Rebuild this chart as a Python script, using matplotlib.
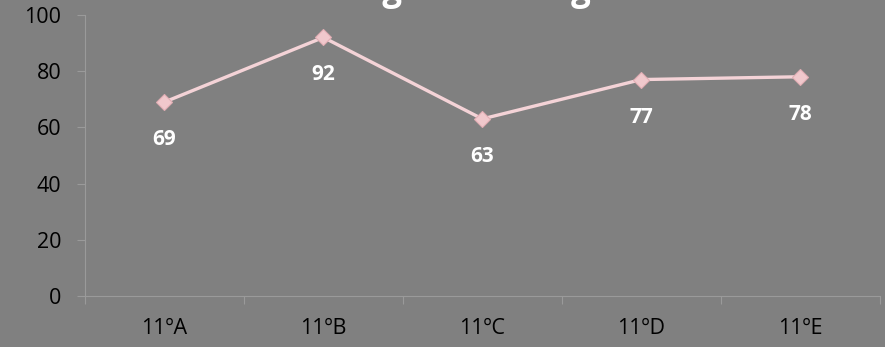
import matplotlib.pyplot as plt
import numpy as np

# Chart data
turmas = ['11ºA', '11ºB', '11ºC', '11ºD', '11ºE']
medias = [69, 92, 63, 77, 78]
yticks = [0, 20, 40, 60, 80, 100]
titulo = 'Biologia e Geologia'

plt.rcParams['font.family'] = ['Open Sans', 'DejaVu Sans']

bg = '#808080'
axis_col = '#9a9a9a'

fig = plt.figure(figsize=(8.85, 3.47), dpi=100)
fig.patch.set_facecolor(bg)
ax = fig.add_axes([0.096, 0.147, 0.898, 0.81])
ax.set_facecolor(bg)

x = np.arange(len(turmas))
ax.plot(x, medias, color='#f4d3d7', lw=2.4, marker='D', markersize=8,
        markerfacecolor='#f0c8cc', markeredgecolor='#e2aeb4', markeredgewidth=0.8,
        zorder=3)

for xi, v in zip(x, medias):
    ax.annotate(str(v), (xi, v), xytext=(0, -27), textcoords='offset points',
                ha='center', va='center', color='white', fontsize=15,
                fontweight='bold')

ax.set_xlim(-0.5, len(turmas) - 0.5)
ax.set_ylim(0, 100)
ax.set_yticks(yticks)
ax.set_xticks(x)
ax.set_xticklabels(turmas)
ax.set_xticks(np.arange(-0.5, len(turmas)), minor=True)

for s in ['top', 'right']:
    ax.spines[s].set_visible(False)
for s in ['left', 'bottom']:
    ax.spines[s].set_color(axis_col)
    ax.spines[s].set_linewidth(0.8)

ax.tick_params(axis='y', colors=axis_col, labelcolor='black', labelsize=15.5,
               length=6, width=0.8, direction='out', pad=11)
ax.tick_params(axis='x', which='major', length=0, labelcolor='black',
               labelsize=15.5, pad=16)
ax.tick_params(axis='x', which='minor', colors=axis_col, length=6,
               width=0.8, direction='out')

# title: only the bottom of the letters shows at the top edge
fig.text(0.518, 1.0, titulo, ha='center', va='baseline', color='white',
         fontsize=25, fontweight='bold')

fig.savefig('out.png', dpi=100, facecolor=bg)
